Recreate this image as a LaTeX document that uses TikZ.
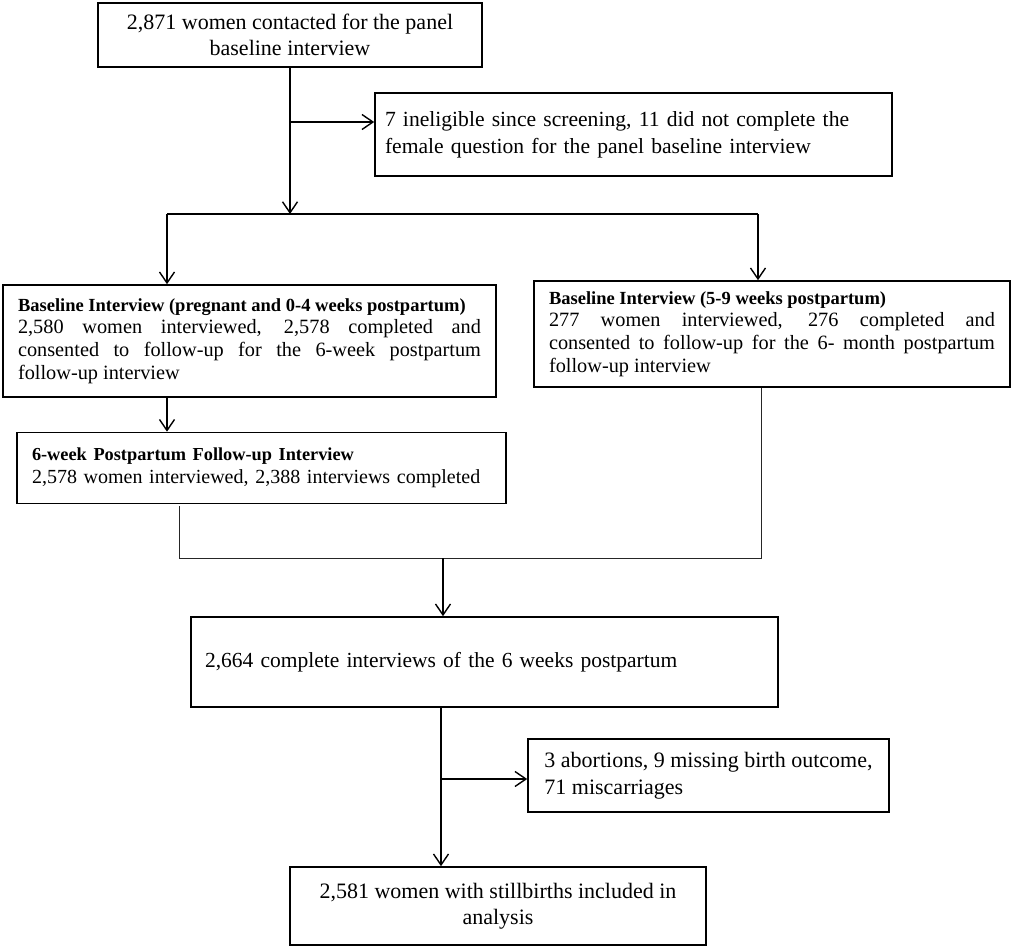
\documentclass[tikz,border=0pt]{standalone}
\usepackage{fontspec}
\setmainfont{Liberation Serif}
\usetikzlibrary{arrows.meta}
\begin{document}
\begin{tikzpicture}[x=1pt,y=-1pt,
  box/.style={draw, line width=1.6pt, inner ysep=0pt, font=\fontsize{22}{26.5}\selectfont},
  midbox/.style={draw, line width=1.6pt, inner ysep=0pt, font=\fontsize{20.3}{22.7}\selectfont},
  arr/.style={line width=1.4pt, -{Straight Barb[length=11pt,width=15pt,line width=1.4pt]}},
  conn/.style={line width=1.4pt},
  thinconn/.style={line width=0.9pt, black!85}]
\useasboundingbox (0,0) rectangle (1013,948);

\node[box, minimum width=384pt, minimum height=64pt, align=center] (A) at (290,35)
  {2,871 women contacted for the panel\\baseline interview};

\node[box, text width=497pt, inner xsep=10pt, minimum height=83pt, align=left,
      font=\fontsize{21.6}{27}\selectfont] (B) at (633.5,134.5)
  {7 ineligible since screening, 11 did not complete the\\female question for the panel baseline interview};

\node[midbox, text width=463pt, inner xsep=15pt, minimum height=112pt, align=justify] (C) at (249.5,341)
  {{\fontsize{18.5}{22.7}\selectfont\bfseries Baseline Interview (pregnant and 0-4 weeks postpartum)\par}
   2,580 women interviewed, 2,578 completed and\linebreak consented to follow-up for the 6-week postpartum\linebreak follow-up interview};

\node[midbox, text width=446pt, inner xsep=15pt, minimum height=106pt, align=justify] (D) at (772,334)
  {{\fontsize{18.5}{22.7}\selectfont\bfseries Baseline Interview (5-9 weeks postpartum)\par}
   277 women interviewed, 276 completed and\linebreak consented to follow-up for the 6- month postpartum\linebreak follow-up interview};

\node[midbox, text width=459pt, inner xsep=15pt, minimum height=71pt, align=left,
      font=\fontsize{20}{22.7}\selectfont] (E) at (261.5,468)
  {{\fontsize{18.3}{22.7}\selectfont\bfseries 6-week Postpartum Follow-up Interview\par}
   2,578 women interviewed, 2,388 interviews completed};

\node[box, text width=559pt, inner xsep=14pt, minimum height=90pt, align=left,
      font=\fontsize{21.5}{26.5}\selectfont] (F) at (484.5,662)
  {2,664 complete interviews of the 6 weeks postpartum};

\node[box, minimum width=361pt, minimum height=73pt, align=left] (G) at (708.5,775.5)
  {3 abortions, 9 missing birth outcome,\\71 miscarriages};

\node[box, minimum width=416pt, minimum height=78pt, align=center] (H) at (498,906)
  {2,581 women with stillbirths included in\\analysis};

% coordinates for junctions
\coordinate (b1) at (290,122);
\coordinate (s1) at (290,214);
\coordinate (sL) at (167,214);
\coordinate (sR) at (758,214);
\coordinate (eL) at (179,506);
\coordinate (jL) at (179,558);
\coordinate (jR) at (761,558);
\coordinate (j) at (443,558);
\coordinate (fB) at (441,707);
\coordinate (g1) at (441,779);

\draw[conn] (A.south -| b1) -- (b1);
\draw[arr] (b1) -- (s1);
\draw[arr] (b1) -- (b1 -| B.west);
\draw[conn] (sL) -- (sR);
\draw[arr] (sL) -- (sL |- C.north);
\draw[arr] (sR) -- (sR |- D.north);
\draw[arr] (sL |- C.south) -- (sL |- E.north);
\draw[thinconn] (eL) -- (jL) -- (jR) -- (jR |- D.south);
\draw[arr] (j) -- (j |- F.north);
\draw[arr] (fB) -- (fB |- H.north);
\draw[arr] (g1) -- (g1 -| G.west);
\end{tikzpicture}
\end{document}
